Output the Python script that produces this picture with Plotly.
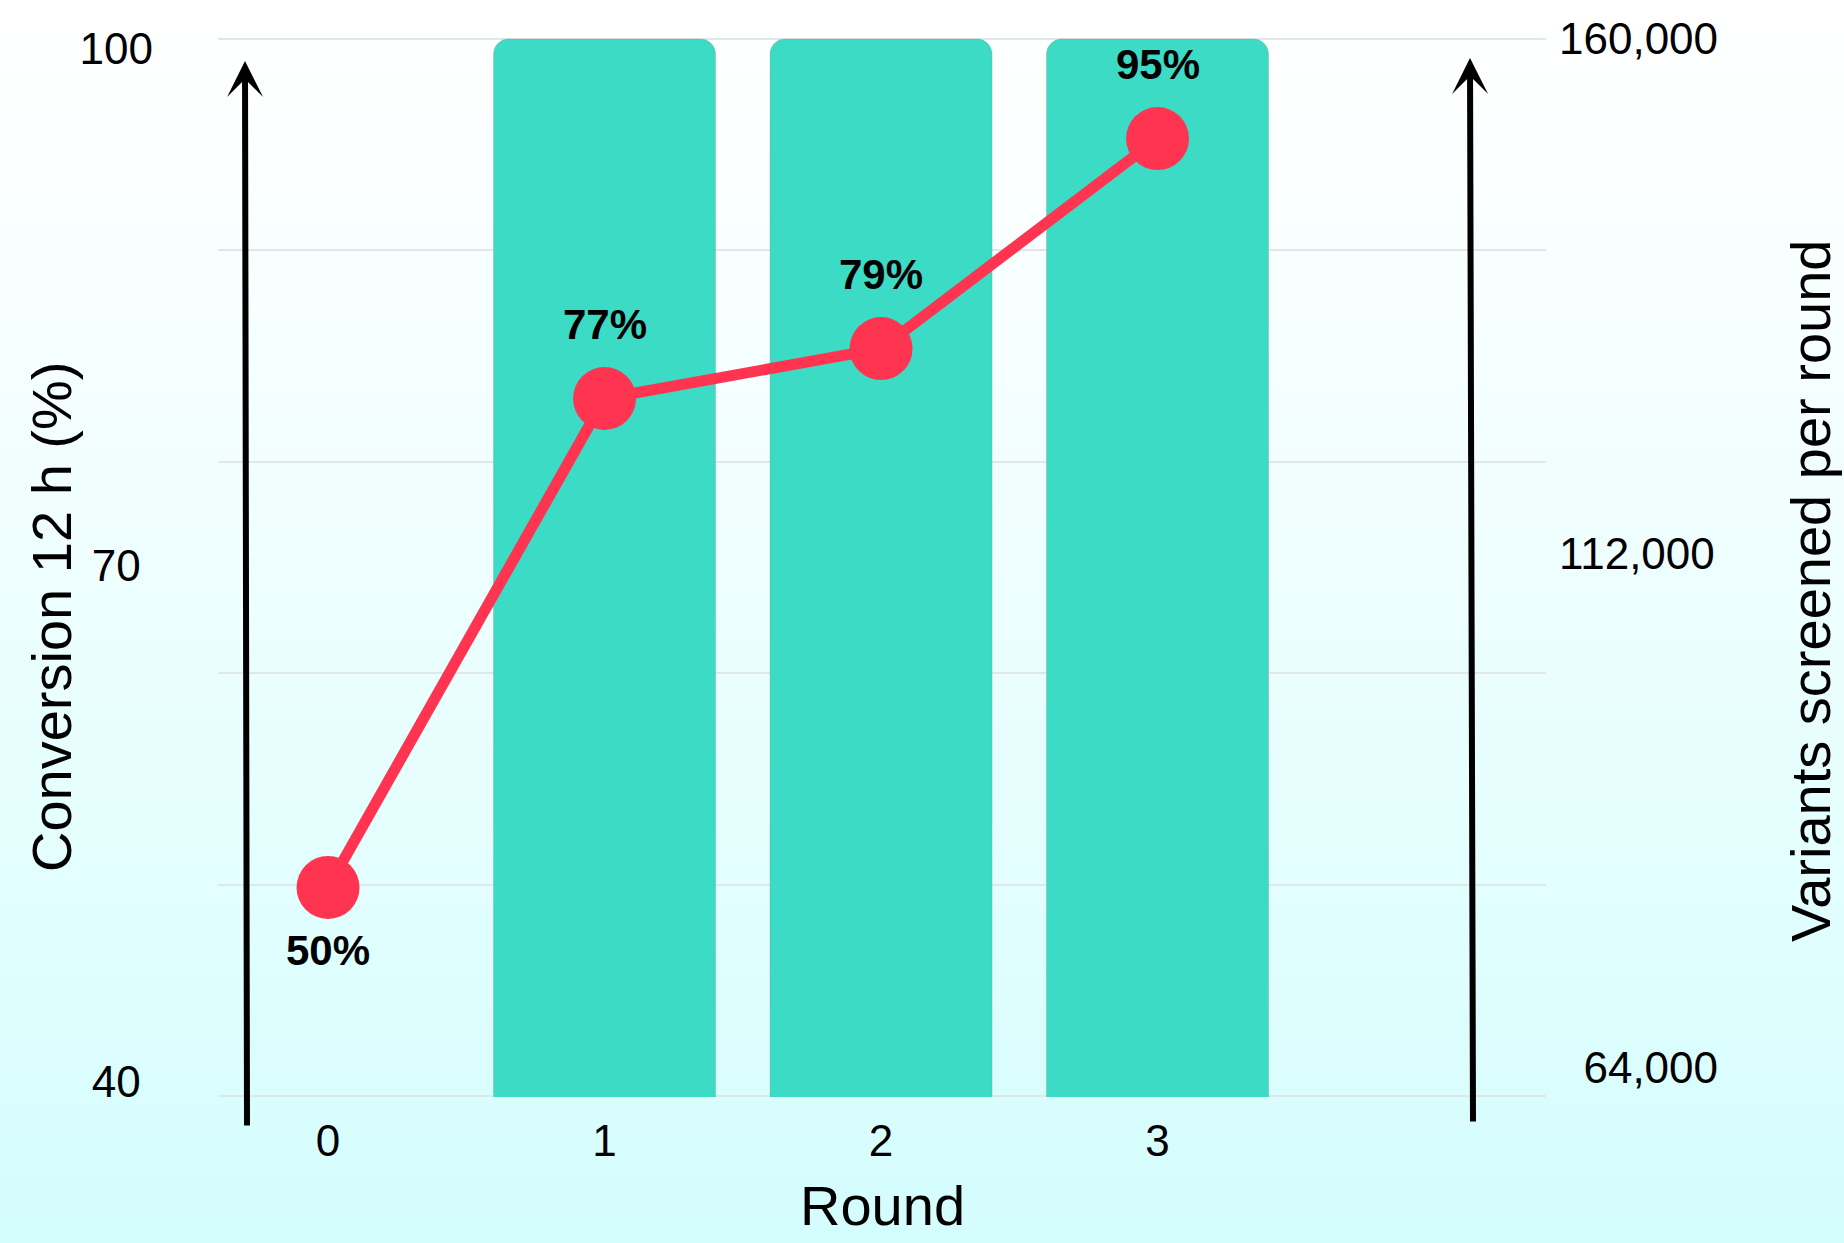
import base64
import struct
import zlib
import plotly.graph_objects as go

# ---------------- data ----------------
rounds = [0, 1, 2, 3]
round_labels = ["0", "1", "2", "3"]
variants_per_round = [0, 160000, 160000, 160000]
conversion_pct = [51.3, 79.7, 82.6, 94.8]
conversion_labels = ["50%", "77%", "79%", "95%"]
conv_tickvals = [40, 70, 100]
variant_tickvals = [64000, 112000, 160000]
x_title = "Round"
left_title = "Conversion 12 h (%)"
right_title = "Variants screened per round"

# ---------------- style ----------------
FONT = "Liberation Sans, Arial, Helvetica, sans-serif"
W, H = 1844, 1243
L, R, T, B = 218, 298, 38, 146
PW, PH = W - L - R, H - T - B
NBSP = "\u00a0"

BAR_COLOR = "#3BDBC5"
LINE_COLOR = "#FF3450"


def gradient_png(h, top, bottom, gamma=1.0):
    raw = b""
    for i in range(h):
        t = (i / (h - 1)) ** gamma
        raw += b"\x00" + bytes(int(round(top[k] + (bottom[k] - top[k]) * t)) for k in range(3))

    def chunk(tag, data):
        return (struct.pack(">I", len(data)) + tag + data
                + struct.pack(">I", zlib.crc32(tag + data) & 0xFFFFFFFF))

    png = (b"\x89PNG\r\n\x1a\n"
           + chunk(b"IHDR", struct.pack(">IIBBBBB", 1, h, 8, 2, 0, 0, 0))
           + chunk(b"IDAT", zlib.compress(raw))
           + chunk(b"IEND", b""))
    return "data:image/png;base64," + base64.b64encode(png).decode()


bg = gradient_png(256, (255, 255, 255), (212, 253, 253), 1.2)


def px_x(px):
    return (px - L) / PW


def px_y(py):
    return ((H - B) - py) / PH


# tick texts (padded so labels sit like the reference)
conv_ticktext = [f"{v}" + NBSP * (3 - len(str(v))) for v in conv_tickvals]
var_ticktext = [NBSP * (2 * (7 - len(f"{v:,}"))) + f"{v:,}" for v in variant_tickvals]

fig = go.Figure()

fig.add_trace(go.Bar(
    x=rounds, y=variants_per_round, yaxis="y", width=0.803,
    marker=dict(color=BAR_COLOR, cornerradius=15,
                line=dict(width=1, color="rgba(120,160,150,0.35)")),
    showlegend=False, hoverinfo="skip",
))

fig.add_trace(go.Scatter(
    x=rounds, y=conversion_pct, yaxis="y2", mode="lines+markers",
    line=dict(color=LINE_COLOR, width=11),
    marker=dict(size=63, color=LINE_COLOR),
    showlegend=False, cliponaxis=False, hoverinfo="skip",
))

# empty trace that carries the gridline axis
fig.add_trace(go.Scatter(x=[], y=[], yaxis="y3", showlegend=False, hoverinfo="skip"))

annotations = []
for i, (r, v, t) in enumerate(zip(rounds, conversion_pct, conversion_labels)):
    annotations.append(dict(
        x=r, y=v, xref="x", yref="y2", text=t, showarrow=False,
        font=dict(family=FONT, size=42, color="black", weight="bold"),
        yshift=-63 if i == 0 else 74,
    ))

# the two vertical arrows (tip in paper coords, tail as pixel offset)
for tipx, tipy, ax, ay in [(245, 61, 2, 1066), (1470, 58, 3, 1065)]:
    annotations.append(dict(
        x=px_x(tipx), y=px_y(tipy), xref="paper", yref="paper", ax=ax, ay=ay, text="",
        showarrow=True, arrowhead=3, arrowsize=1, arrowwidth=6,
        arrowcolor="black", standoff=0,
    ))

# axis titles
title_font = dict(family=FONT, size=56, color="black")
annotations += [
    dict(text=x_title, x=px_x(882), y=px_y(1205), xref="paper", yref="paper",
         xanchor="center", yanchor="middle", showarrow=False, font=title_font),
    dict(text=left_title, x=px_x(51), y=px_y(617), xref="paper", yref="paper",
         xanchor="center", yanchor="middle", showarrow=False, font=title_font,
         textangle=-90),
    dict(text=right_title, x=px_x(1810), y=px_y(591), xref="paper", yref="paper",
         xanchor="center", yanchor="middle", showarrow=False, font=title_font,
         textangle=-90),
]

fig.update_layout(
    width=W, height=H,
    margin=dict(l=L, r=R, t=T, b=B, autoexpand=False),
    paper_bgcolor="white",
    plot_bgcolor="rgba(0,0,0,0)",
    font=dict(family=FONT, color="black", size=44),
    showlegend=False,
    images=[dict(
        source=bg, xref="paper", yref="paper",
        x=-L / PW, y=1 + T / PH, sizex=W / PW, sizey=H / PH,
        xanchor="left", yanchor="top", sizing="stretch", layer="below",
    )],
    xaxis=dict(
        range=[-0.398, 4.405], tickmode="array", tickvals=rounds, ticktext=round_labels,
        showgrid=False, zeroline=False, showline=False, ticks="",
        ticklabelstandoff=14, tickfont=dict(size=44, color="black"),
    ),
    yaxis=dict(
        side="right", range=[61300, 160100], tickmode="array",
        tickvals=variant_tickvals, ticktext=var_ticktext,
        showgrid=False, zeroline=False, showline=False, ticks="",
        ticklabelstandoff=12, tickfont=dict(size=44, color="black"),
    ),
    yaxis2=dict(
        overlaying="y", side="left", anchor="x", range=[39.13, 100.64], tickmode="array",
        tickvals=conv_tickvals, ticktext=conv_ticktext,
        showgrid=False, zeroline=False, showline=False, ticks="",
        ticklabelstandoff=64, tickfont=dict(size=44, color="black"),
    ),
    yaxis3=dict(
        overlaying="y", anchor="x", range=[-0.005, 5.005], tick0=0, dtick=1,
        showgrid=True, gridcolor="#E1E6E6", gridwidth=2,
        showticklabels=False, zeroline=False, showline=False, ticks="",
    ),
    annotations=annotations,
)

fig.write_html("out.html")
